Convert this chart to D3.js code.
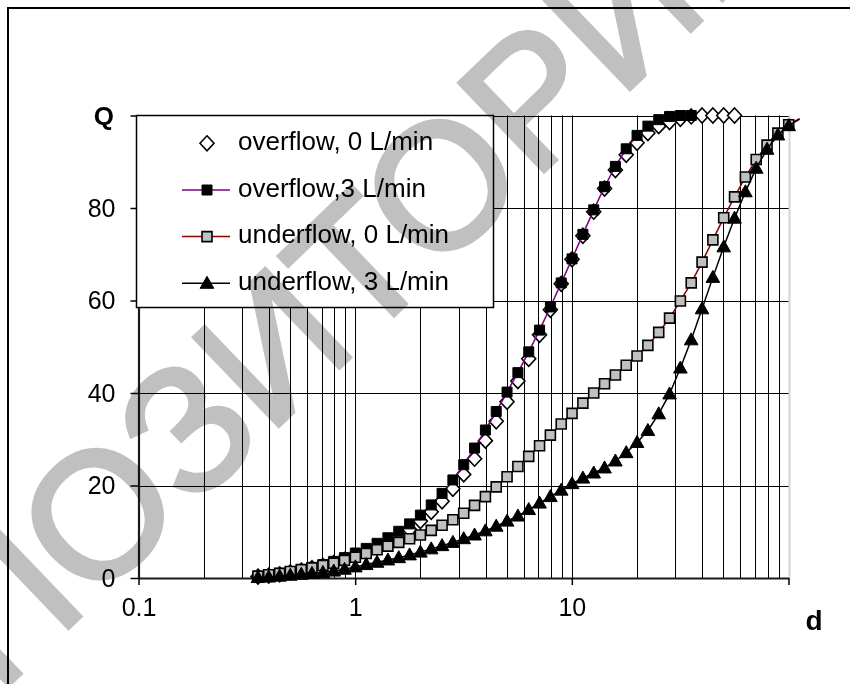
<!DOCTYPE html>
<html>
<head>
<meta charset="utf-8">
<script src="https://cdn.jsdelivr.net/npm/d3@7/dist/d3.min.js"></script>
<style>
  body { margin: 0; background: #fff; }
  svg { display: block; }
  text { font-family: "Liberation Sans", Arial, Helvetica, sans-serif; }
</style>
</head>
<body>
<svg id="chart" width="850" height="684"></svg>
<script>
// Particle size classes (µm), log-spaced size bins
const sizes = [0.356, 0.399, 0.448, 0.502, 0.564, 0.632, 0.710, 0.796, 0.893,
  1.002, 1.125, 1.262, 1.416, 1.589, 1.783, 2.000, 2.244, 2.518, 2.825,
  3.170, 3.557, 3.991, 4.477, 5.024, 5.637, 6.325, 7.096, 7.962, 8.934,
  10.024, 11.247, 12.619, 14.159, 15.887, 17.825, 20.000, 22.440, 25.179, 28.251,
  31.698, 35.566, 39.905, 44.774, 50.238, 56.368, 63.246, 70.963, 79.621, 89.337,
  100.237, 112.468];

// Cumulative passing Q (%) for each sample
const overflow0 = [0.3, 0.5, 0.8, 1.2, 1.6, 2.1, 2.6, 3.2, 3.9,
  4.7, 5.6, 6.6, 7.7, 9.0, 10.5, 12.3, 14.3, 16.6, 19.3,
  22.4, 25.8, 29.7, 33.9, 38.1, 42.6, 47.4, 52.6, 58.0, 63.6,
  68.9, 74.0, 79.2, 84.2, 88.2, 91.5, 94.1, 96.2, 97.7, 98.6,
  99.3, 99.8, 100, 100, 100, 100];

const overflow3 = [0.3, 0.6, 1.0, 1.4, 1.8, 2.3, 2.9, 3.6, 4.4,
  5.4, 6.4, 7.5, 8.7, 10.1, 11.7, 13.6, 15.8, 18.3, 21.2,
  24.5, 28.1, 32.0, 36.0, 40.2, 44.4, 48.9, 53.6, 58.6, 63.8,
  69.0, 74.3, 79.6, 84.6, 89.0, 92.8, 95.7, 97.7, 99.1, 99.8,
  100, 100];

const underflow0 = [0.4, 0.7, 1.0, 1.4, 1.8, 2.2, 2.7, 3.2, 3.8,
  4.5, 5.3, 6.1, 6.9, 7.7, 8.5, 9.3, 10.3, 11.4, 12.6,
  14.0, 15.7, 17.6, 19.7, 21.9, 24.1, 26.3, 28.6, 30.9, 33.3,
  35.6, 37.8, 40.0, 42.0, 43.9, 46.0, 48.0, 50.3, 53.1, 56.2,
  59.9, 63.8, 68.3, 73.1, 77.9, 82.4, 86.7, 90.5, 93.6, 96.2,
  98.0, 99.3];

const underflow3 = [0.1, 0.2, 0.4, 0.6, 0.8, 1.0, 1.2, 1.5, 1.9,
  2.4, 2.9, 3.4, 3.9, 4.4, 5.0, 5.6, 6.3, 7.0, 7.7,
  8.5, 9.3, 10.2, 11.2, 12.3, 13.4, 14.8, 16.2, 17.6, 19.0,
  20.4, 21.6, 22.7, 23.8, 25.3, 27.1, 29.3, 31.9, 35.5, 39.8,
  45.4, 51.5, 58.2, 65.0, 71.6, 77.8, 83.5, 88.6, 92.7, 95.8,
  97.8, 99.2];

const seriesNames = ["overflow, 0 L/min", "overflow,3 L/min", "underflow, 0 L/min", "underflow, 3 L/min"];
const yTickValues = [0, 20, 40, 60, 80, 100];
const xTickValues = [0.1, 1, 10, 100];

const svg = d3.select("#chart");

// outer frame
svg.append("rect")
  .attr("x", 8).attr("y", 8).attr("width", 900).attr("height", 720)
  .attr("fill", "none").attr("stroke", "#000").attr("stroke-width", 2);

const x = d3.scaleLog().domain([0.1, 100]).range([138.5, 788.5]);
const y = d3.scaleLinear().domain([0, 100]).range([578, 115.5]);

// grid
const grid = svg.append("g");
x.ticks().filter(v => v > 0.1 + 1e-9).forEach(v => {
  const last = Math.abs(v - 100) < 1e-6;
  grid.append("line")
    .attr("x1", Math.round(x(v)) + 0.5).attr("x2", Math.round(x(v)) + 0.5)
    .attr("y1", y(0)).attr("y2", y(100))
    .attr("stroke", last ? "#d4d4d4" : "#000")
    .attr("stroke-width", last ? 2 : 1);
});
yTickValues.filter(v => v > 0).forEach(v => {
  grid.append("line")
    .attr("x1", x(0.1)).attr("x2", x(100))
    .attr("y1", Math.round(y(v)) + 0.5).attr("y2", Math.round(y(v)) + 0.5)
    .attr("stroke", "#000").attr("stroke-width", 1);
});

// axes
const yAxis = svg.append("g")
  .attr("transform", `translate(${x(0.1)},0)`)
  .call(d3.axisLeft(y).tickValues(yTickValues).tickSize(8).tickSizeOuter(0).tickPadding(15)
    .tickFormat(d => d === 100 ? "" : d));
const xAxis = svg.append("g")
  .attr("transform", `translate(0,${y(0)})`)
  .call(d3.axisBottom(x).tickValues(xTickValues).tickSize(7).tickSizeOuter(0).tickPadding(13)
    .tickFormat(d => d === 100 ? "" : d3.format("~g")(d)));
[yAxis, xAxis].forEach(a => {
  a.select(".domain").attr("stroke", "#1a1a1a").attr("stroke-width", 2.2);
  a.selectAll(".tick line").attr("stroke", "#000").attr("stroke-width", 1.5);
  a.selectAll("text").attr("font-size", 25).attr("fill", "#000")
    .attr("font-family", "'Liberation Sans', Arial, sans-serif");
});

// axis titles
svg.append("text").attr("x", 114).attr("y", 125).attr("text-anchor", "end")
  .attr("font-size", 26).attr("font-weight", "bold").text("Q");
svg.append("text").attr("x", 814).attr("y", 630).attr("text-anchor", "middle")
  .attr("font-size", 28).attr("font-weight", "bold").text("d");

// marker shapes
const markerPath = {
  diamond: "M0,-7.5L7,0L0,7.5L-7,0Z",
  square: "M-5,-5H5V5H-5Z",
  triangle: "M0,-7L6.8,5L-6.8,5Z"
};

const series = [
  { name: seriesNames[0], values: overflow0, line: null, shape: "diamond", fill: "#fff", stroke: "#000", sw: 1.6 },
  { name: seriesNames[1], values: overflow3, line: "#800080", shape: "square", fill: "#000", stroke: "#000", sw: 1 },
  { name: seriesNames[2], values: underflow0, line: "#8b0000", shape: "square", fill: "#c0c0c0", stroke: "#000", sw: 1.6 },
  { name: seriesNames[3], values: underflow3, line: "#000", shape: "triangle", fill: "#000", stroke: "#000", sw: 1 }
];

const lineGen = d3.line().x(d => x(d[0])).y(d => y(d[1]));

series.forEach(s => {
  const pts = s.values.map((v, i) => [sizes[i], v]);
  const g = svg.append("g");
  if (s.line) {
    g.append("path").attr("d", lineGen(pts))
      .attr("fill", "none").attr("stroke", s.line).attr("stroke-width", 1.5);
  }
  g.selectAll("path.mk").data(pts.filter(p => p[0] <= 100.5)).join("path")
    .attr("class", "mk")
    .attr("d", markerPath[s.shape])
    .attr("transform", p => `translate(${x(p[0])},${y(p[1])})`)
    .attr("fill", s.fill).attr("stroke", s.stroke).attr("stroke-width", s.sw);
});

// legend
const legend = svg.append("g");
legend.append("rect").attr("x", 136.5).attr("y", 115.5).attr("width", 357).attr("height", 192)
  .attr("fill", "#fff").attr("stroke", "#000").attr("stroke-width", 1.5);
const rowBase = [150, 196.7, 243.3, 290];
series.forEach((s, i) => {
  const cy = rowBase[i] - 6.7;
  if (s.line) {
    legend.append("line").attr("x1", 182).attr("x2", 230).attr("y1", cy).attr("y2", cy)
      .attr("stroke", s.line).attr("stroke-width", 1.5);
  }
  legend.append("path").attr("d", markerPath[s.shape])
    .attr("transform", `translate(207,${cy})`)
    .attr("fill", s.fill).attr("stroke", s.stroke).attr("stroke-width", s.sw);
  legend.append("text").attr("x", 238).attr("y", rowBase[i])
    .attr("font-size", 26).text(s.name);
});

// repository stamp across the figure: the two "О" letters are pinned to set points
const stamp = svg.append("text")
  .attr("font-size", 175)
  .attr("fill", "#c0c0c0").attr("stroke", "#c0c0c0").attr("stroke-width", 4)
  .style("mix-blend-mode", "multiply")
  .text("РЕПОЗИТОРИЙ");
const c1 = stamp.node().getExtentOfChar(3), c2 = stamp.node().getExtentOfChar(7);
const p1 = [c1.x + c1.width / 2, c1.y + c1.height / 2];
const p2 = [c2.x + c2.width / 2, c2.y + c2.height / 2];
const t1 = [98, 514], t2 = [441, 185];
const k = Math.hypot(t2[0] - t1[0], t2[1] - t1[1]) / Math.hypot(p2[0] - p1[0], p2[1] - p1[1]);
const ang = Math.atan2(t2[1] - t1[1], t2[0] - t1[0]) * 180 / Math.PI;
stamp.attr("transform", `translate(${t1[0]},${t1[1]}) rotate(${ang}) scale(${k}) translate(${-p1[0]},${-p1[1]})`);
</script>
</body>
</html>
